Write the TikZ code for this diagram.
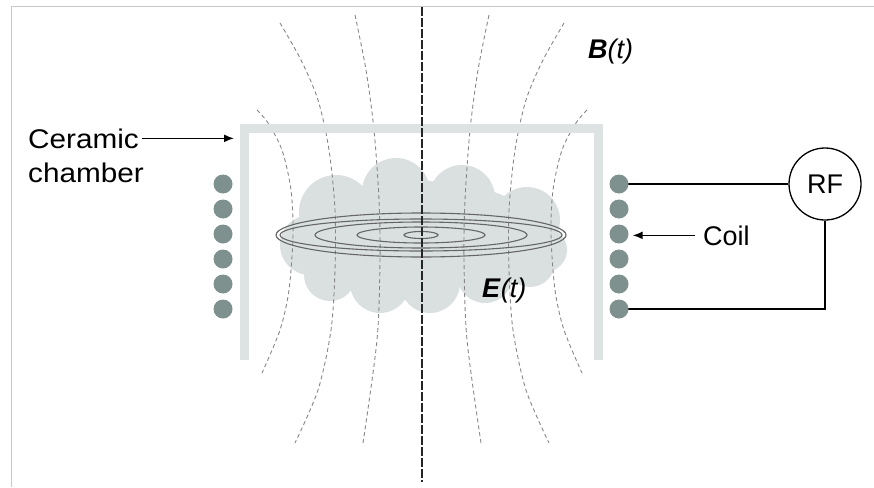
\documentclass[tikz,border=0pt]{standalone}
\usepackage{fontspec}
\setmainfont{Liberation Sans}
\usepackage{tikz}
\usetikzlibrary{positioning,arrows.meta}

\definecolor{wallgray}{RGB}{221,227,226}
\definecolor{plasma}{RGB}{218,224,224}
\definecolor{coilgray}{RGB}{127,145,142}
\definecolor{fieldgray}{RGB}{135,135,135}
\definecolor{framegray}{RGB}{200,200,200}

\begin{document}
\begin{tikzpicture}[
        x=1pt, y=-1pt,
        lbl/.style   ={font=\fontsize{27}{34}\selectfont, inner sep=0pt},
        turn/.style  ={circle, fill=coilgray, minimum size=19pt, inner sep=0pt},
        wall/.style  ={line width=9pt, draw=wallgray},
        fieldline/.style={draw=fieldgray, line width=0.9pt, dash pattern=on 4pt off 3pt},
        eline/.style ={draw=black!60, line width=1.1pt},
        axis/.style  ={draw=black!85, line width=1.7pt, dash pattern=on 9pt off 2pt},
        wire/.style  ={line width=1.4pt},
        arrow/.style ={-{Latex[length=10pt,width=8pt]}, line width=1.5pt}
    ]
    \useasboundingbox (0,0) rectangle (874,487);
    \draw[framegray, line width=1pt] (874,7) -- (11,7) -- (11,487);

    % plasma cloud, one path so the puffs merge
    \fill[plasma]
        (396,192) circle[radius=34]  (462,198) circle[radius=33]
        (527,220) circle[radius=33]  (336,212) circle[radius=37]
        (310,245) circle[radius=30]  (545,250) circle[radius=22]
        (330,275) circle[radius=26]  (380,283) circle[radius=30]
        (430,283) circle[radius=30]  (485,275) circle[radius=28]
        (530,262) circle[radius=25]  (420,240) circle[radius=60]
        (370,240) circle[radius=50]  (480,240) circle[radius=50];

    % B field lines, mirrored about the axis
    \foreach \sgn in {1,-1} {
        \begin{scope}[xshift=422pt, xscale=\sgn]
            \draw[fieldline] plot[smooth] coordinates {(-165,110) (-154,123) (-140,150)
                (-131,190) (-129,235) (-133,290) (-142,330) (-160,373)};
            \draw[fieldline] plot[smooth] coordinates {(-142,23) (-121,60) (-104,100)
                (-93,150) (-87,210) (-87,270) (-91,330) (-104,390) (-127,443)};
            \draw[fieldline] plot[smooth] coordinates {(-67,15) (-56,70) (-48,130)
                (-43,200) (-42,260) (-45,340) (-59,443)};
        \end{scope}
    }

    % E field loops
    \foreach \rx/\ry in {145/22, 141/16, 106/13, 64/8, 17/3.5}
        \draw[eline] (421,235) ellipse[x radius=\rx, y radius=\ry];

    % ceramic chamber
    \draw[wall] (244,360) -- (244,128) -- (598,128) -- (598,360);
    \coordinate (wallL) at (234,128);

    % symmetry axis
    \coordinate (axtop) at (422,7);
    \coordinate (axbot) at (422,482);
    \draw[axis] (axtop) -- (axbot);

    % RF supply and leads
    \node[lbl, circle, draw, line width=1.3pt, minimum size=72pt] (rf) at (825,184) {RF};
    \coordinate (lead1) at (619,184);
    \coordinate (lead6) at (619,309);
    \draw[wire] (lead1) -- (rf.west);
    \draw[wire] (rf.south) |- (lead6);

    % coil turns
    \foreach \i in {1,...,6} {
        \node[turn] (lc\i) at (223,{184+25*(\i-1)}) {};
        \node[turn] (rc\i) at (619,{184+25*(\i-1)}) {};
    }

    % labels
    \node[lbl, anchor=base west] (ceramic) at (28,148) {\scalebox{1.1}[1]{Ceramic}};
    \node[lbl, anchor=base west] (chamber) at (28,182) {\scalebox{1.1}[1]{chamber}};
    \draw[arrow, shorten <=3pt] (ceramic.east) -- (ceramic.east -| wallL);

    \node[lbl, anchor=base west] (coil) at (703,245) {Coil};
    \draw[arrow, shorten <=8pt, shorten >=4pt] (coil.west) -- (coil.west -| rc3.east);

    \node[lbl, anchor=base west] (bt) at (588,58) {\textbf{\textit{B}}\textit{(t)}};
    \node[lbl, anchor=base west] (et) at (482,297) {\textbf{\textit{E}}\textit{(t)}};
\end{tikzpicture}
\end{document}
